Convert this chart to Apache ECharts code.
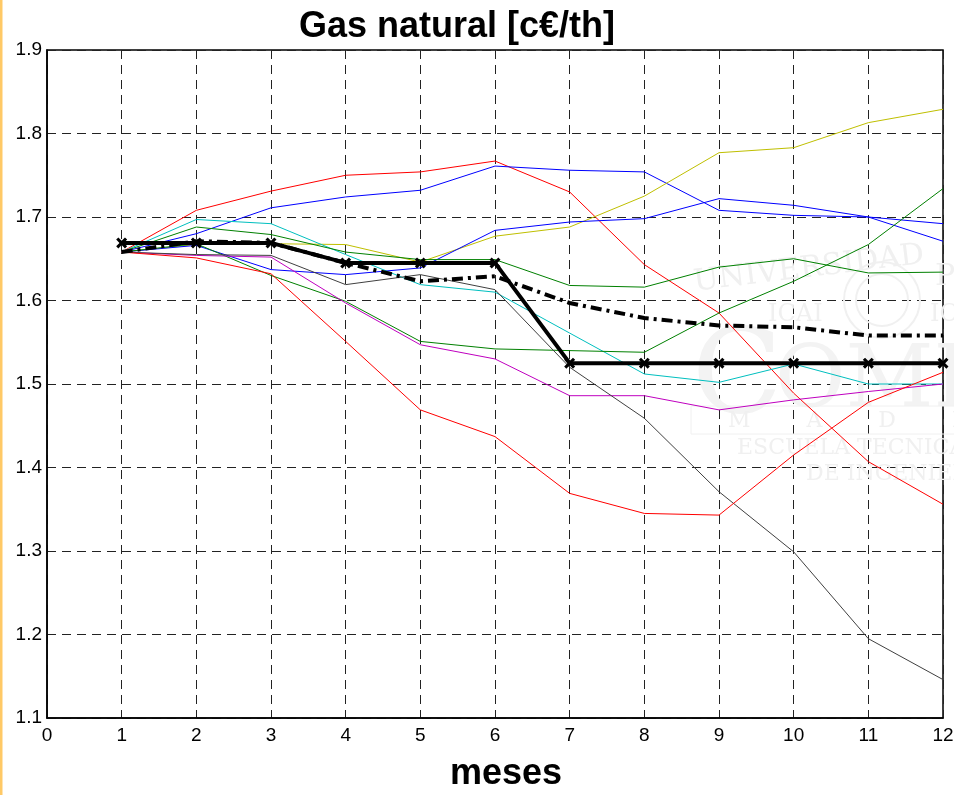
<!DOCTYPE html>
<html>
<head>
<meta charset="utf-8">
<script src="https://cdn.jsdelivr.net/npm/echarts@6/dist/echarts.min.js"></script>
<style>
  html, body { margin: 0; padding: 0; background: #fff; }
  #chart { width: 954px; height: 795px; }
</style>
</head>
<body>
<div id="chart"></div>
<script>
// meses 1..12
const months = [1, 2, 3, 4, 5, 6, 7, 8, 9, 10, 11, 12];

// escenarios (líneas finas)
const redHigh   = [1.658, 1.708, 1.731, 1.750, 1.754, 1.767, 1.730, 1.643, 1.585, 1.489, 1.407, 1.356];
const blueHigh  = [1.658, 1.680, 1.711, 1.724, 1.732, 1.761, 1.756, 1.754, 1.708, 1.702, 1.700, 1.671];
const yellow    = [1.658, 1.667, 1.668, 1.667, 1.646, 1.677, 1.688, 1.725, 1.777, 1.783, 1.813, 1.829];
const blueLow   = [1.658, 1.666, 1.637, 1.631, 1.639, 1.684, 1.694, 1.698, 1.722, 1.714, 1.700, 1.692];
const cyan      = [1.658, 1.697, 1.692, 1.655, 1.619, 1.610, 1.561, 1.512, 1.502, 1.524, 1.500, 1.500];
const greenHigh = [1.658, 1.688, 1.679, 1.658, 1.649, 1.649, 1.618, 1.616, 1.640, 1.650, 1.633, 1.634];
const greenLow  = [1.658, 1.668, 1.630, 1.599, 1.551, 1.542, 1.540, 1.538, 1.585, 1.623, 1.667, 1.734];
const magenta   = [1.658, 1.654, 1.652, 1.597, 1.547, 1.530, 1.486, 1.486, 1.469, 1.481, 1.491, 1.500];
const gray      = [1.658, 1.655, 1.654, 1.619, 1.631, 1.613, 1.520, 1.459, 1.371, 1.299, 1.195, 1.146];
const redLow    = [1.658, 1.651, 1.632, 1.551, 1.469, 1.437, 1.369, 1.345, 1.343, 1.415, 1.478, 1.514];

// línea gruesa con marcas y media (punto-raya)
const bold    = [1.669, 1.669, 1.669, 1.645, 1.645, 1.645, 1.525, 1.525, 1.525, 1.525, 1.525, 1.525];
const average = [1.658, 1.671, 1.669, 1.645, 1.623, 1.629, 1.597, 1.579, 1.570, 1.568, 1.558, 1.558];

const xTicks = [0, 1, 2, 3, 4, 5, 6, 7, 8, 9, 10, 11, 12];
const yTicks = [1.1, 1.2, 1.3, 1.4, 1.5, 1.6, 1.7, 1.8, 1.9];

const font = '"Liberation Sans", Arial, Helvetica, sans-serif';
const pairs = vals => months.map((m, i) => [m, vals[i]]);

const thin = [
  [redHigh, '#ff0000'],
  [blueHigh, '#0000ff'],
  [yellow, '#bfbf00'],
  [blueLow, '#0000ff'],
  [cyan, '#00bfbf'],
  [greenHigh, '#008000'],
  [greenLow, '#008000'],
  [magenta, '#bf00bf'],
  [gray, '#404040'],
  [redLow, '#ff0000']
].map(([vals, color]) => ({
  type: 'line',
  data: pairs(vals),
  symbol: 'none',
  lineStyle: { color, width: 1 },
  itemStyle: { color },
  z: 3
}));

const crossSymbol = 'path://M0,2L2,0L5,3L8,0L10,2L7,5L10,8L8,10L5,7L2,10L0,8L3,5Z';

const chart = echarts.init(document.getElementById('chart'));

// marca de agua (muy tenue)
const wm = '#f0f0f0';
const serif = '"DejaVu Serif", "Liberation Serif", serif';
const watermark = [
  { type: 'text', x: 692, y: 268, rotation: 0.12, z: 1, style: { text: 'UNIVERSIDAD', fill: wm, font: '30px ' + serif } },
  { type: 'text', x: 768, y: 303, z: 1, style: { text: 'ICAI', fill: wm, font: '24px ' + serif } },
  { type: 'text', x: 930, y: 303, z: 1, style: { text: 'ICA', fill: wm, font: '24px ' + serif } },
  { type: 'text', x: 935, y: 262, z: 1, style: { text: 'PO', fill: wm, font: '30px ' + serif } },
  { type: 'circle', z: 1, shape: { cx: 882, cy: 300, r: 38 }, style: { fill: 'none', stroke: wm, lineWidth: 2 } },
  { type: 'circle', z: 1, shape: { cx: 882, cy: 300, r: 26 }, style: { fill: 'none', stroke: wm, lineWidth: 2 } },
  { type: 'text', x: 692, y: 322, z: 1, style: { text: 'C', fill: '#f3f3f3', font: '118px ' + serif } },
  { type: 'text', x: 775, y: 341, z: 1, style: { text: 'OMILLAS', fill: '#f3f3f3', font: '86px ' + serif } },
  { type: 'rect', z: 1, shape: { x: 691, y: 406, width: 280, height: 28 }, style: { fill: 'none', stroke: wm, lineWidth: 1 } },
  { type: 'text', x: 728, y: 410, z: 1, style: { text: 'M        A        D        R', fill: wm, font: '22px ' + serif } },
  { type: 'text', x: 737, y: 437, z: 1, style: { text: 'ESCUELA TECNICA SUPERIOR', fill: wm, font: '22px ' + serif } },
  { type: 'text', x: 806, y: 463, z: 1, style: { text: 'DE INGENIERIA', fill: wm, font: '22px ' + serif } },
  // barra lateral naranja
  { type: 'rect', z: 10, shape: { x: 0, y: 0, width: 2.5, height: 795 }, style: { fill: '#ffc966' } }
];

const option = {
  backgroundColor: '#ffffff',
  animation: false,
  title: {
    text: 'Gas natural [c€/th]',
    left: 294,
    top: 4,
    textStyle: { fontFamily: font, fontSize: 36, fontWeight: 'bold', color: '#000' }
  },
  grid: {
    left: 47, right: 11, top: 50, bottom: 77,
    outerBoundsMode: 'none',
    containLabel: false,
    show: true, borderColor: '#000', borderWidth: 1.5, backgroundColor: 'transparent'
  },
  graphic: watermark,
  xAxis: {
    type: 'value',
    min: xTicks[0], max: xTicks[xTicks.length - 1], interval: 1,
    name: 'meses',
    nameLocation: 'middle',
    nameGap: 38,
    nameMoveOverlap: false,
    nameTextStyle: { fontFamily: font, fontSize: 36, fontWeight: 'bold', color: '#000', padding: [0, 0, 0, 22] },
    axisLine: { show: true, lineStyle: { color: '#000', width: 1.5 } },
    axisTick: { show: false },
    axisLabel: { color: '#000', fontFamily: font, fontSize: 19, margin: 8, formatter: v => String(v) },
    splitLine: { show: true, lineStyle: { color: '#222', width: 1, type: [9, 6] } }
  },
  yAxis: {
    type: 'value',
    min: yTicks[0], max: yTicks[yTicks.length - 1], interval: 0.1,
    axisLine: { show: true, lineStyle: { color: '#000', width: 1.5 } },
    axisTick: { show: false },
    axisLabel: { color: '#000', fontFamily: font, fontSize: 19, margin: 5, formatter: v => v.toFixed(1) },
    splitLine: { show: true, lineStyle: { color: '#222', width: 1, type: [9, 6] } }
  },
  series: thin.concat([
    {
      type: 'line',
      data: pairs(average),
      symbol: 'none',
      lineStyle: { color: '#000', width: 4, type: [11, 5, 3, 5] },
      z: 4
    },
    {
      type: 'line',
      data: pairs(bold),
      symbol: crossSymbol,
      symbolSize: 11,
      showAllSymbol: true,
      itemStyle: { color: '#000' },
      lineStyle: { color: '#000', width: 4 },
      z: 5
    }
  ])
};

chart.setOption(option);
</script>
</body>
</html>
